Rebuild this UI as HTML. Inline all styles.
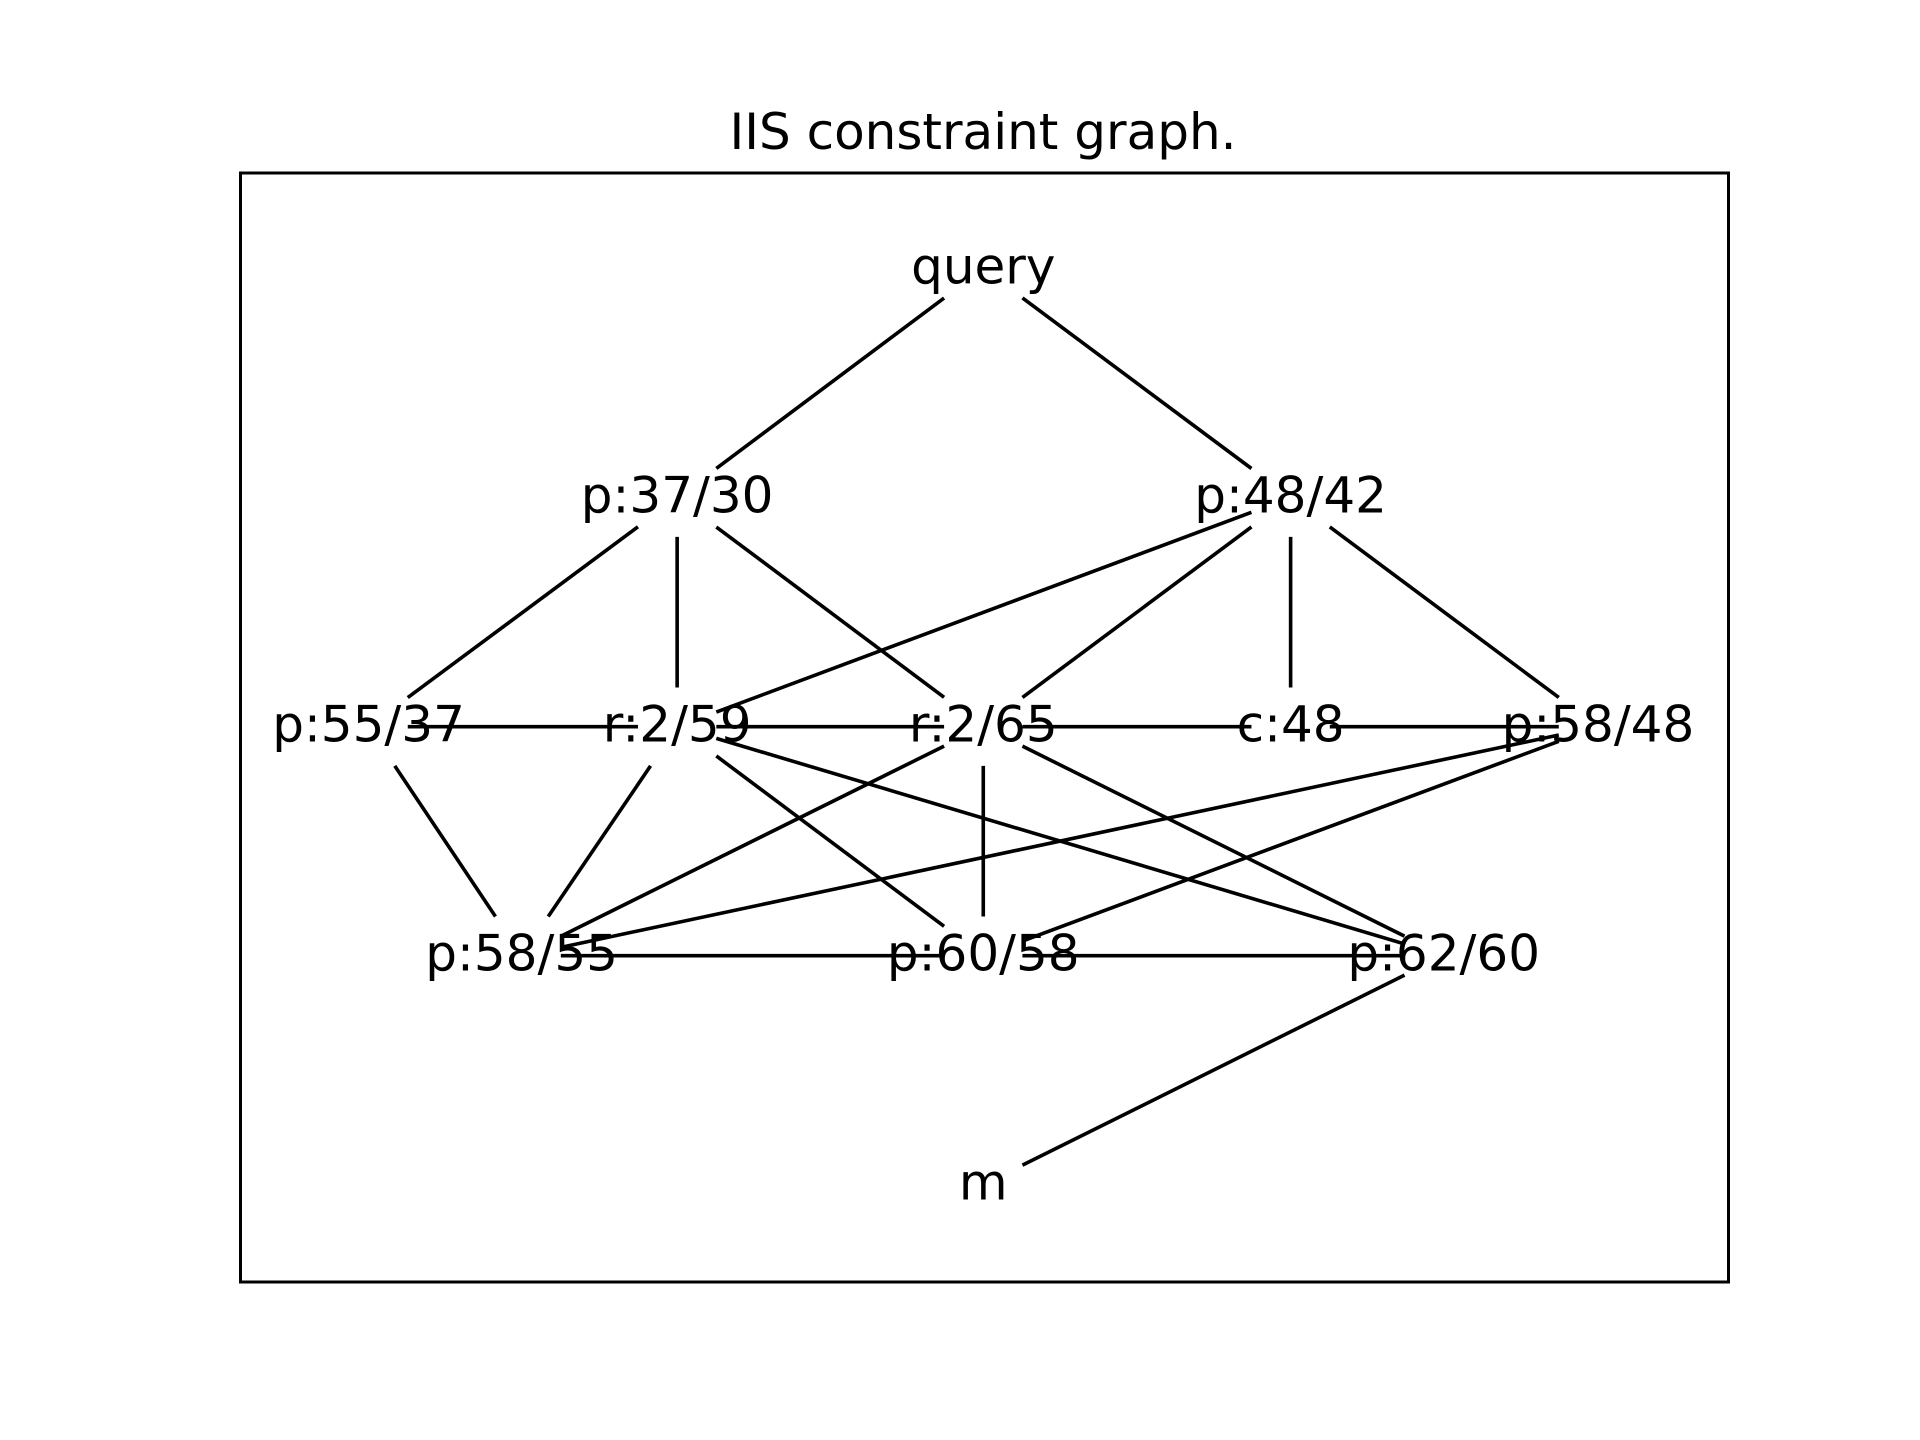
<!DOCTYPE html>
<html><head><meta charset="utf-8"><style>
html,body{margin:0;padding:0;background:#fff;}
svg{display:block;}
text{font-family:"DejaVu Sans","Liberation Sans",sans-serif;font-size:50px;fill:#000;}
</style></head><body>
<svg id="s" width="1920" height="1440" viewBox="0 0 1920 1440" xmlns="http://www.w3.org/2000/svg">
<rect x="0" y="0" width="1920" height="1440" fill="#fff"/>
<rect x="240.5" y="173" width="1488" height="1109" fill="none" stroke="#000" stroke-width="3"/>
<text x="983" y="149" text-anchor="middle">IIS constraint graph.</text>
<g id="edges" stroke="#000" stroke-width="3.6" fill="none"></g>
<g id="labels"></g>
</svg>
<script>
var S=1.2245;
var N={
q:[803,217,"query"],a:[553,404,"p:37/30"],b:[1054,404,"p:48/42"],
c:[301,591,"p:55/37"],d:[553,591,"r:2/59"],e:[803,591,"r:2/65"],f:[1054,591,"c:48"],g:[1305,591,"p:58/48"],
h:[426,778,"p:58/55"],i:[803,778,"p:60/58"],j:[1179,778,"p:62/60"],m:[803,965,"m"]};
var E=["qa","qb","ac","ad","ae","bd","be","bf","bg","cd","de","ef","fg","ch","dh","di","dj","eh","ei","ej","gh","gi","hi","ij","jm"];
var ns="http://www.w3.org/2000/svg",H=32,OY=3;
var eg=document.getElementById("edges"),lg=document.getElementById("labels");
function clip(p,q){var dx=q[0]-p[0],dy=q[1]-p[1];var t=Math.min(dx?H/Math.abs(dx):1e9,dy?H/Math.abs(dy):1e9);return [p[0]+dx*t,p[1]+dy*t];}
E.forEach(function(k){var p=N[k[0]],q=N[k[1]];var a=clip(p,q),b=clip(q,p);
var l=document.createElementNS(ns,"line");l.setAttribute("x1",a[0]*S);l.setAttribute("y1",a[1]*S+OY);l.setAttribute("x2",b[0]*S);l.setAttribute("y2",b[1]*S+OY);eg.appendChild(l);});
for(var k in N){var n=N[k];var t=document.createElementNS(ns,"text");t.setAttribute("x",n[0]*S);t.setAttribute("y",n[1]*S+18);t.setAttribute("text-anchor","middle");t.textContent=n[2];lg.appendChild(t);}
</script>
</body></html>
